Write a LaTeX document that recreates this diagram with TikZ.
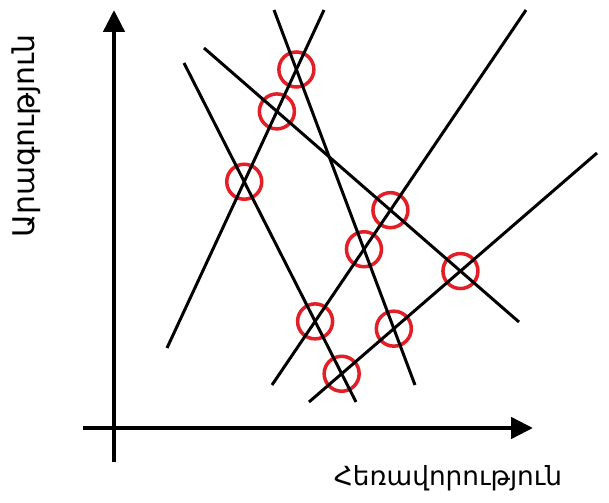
\documentclass[tikz,border=0pt]{standalone}
\usepackage{fontspec}
\newfontfamily\armfont{DejaVu Sans}
\usetikzlibrary{arrows.meta, intersections}
\definecolor{cred}{HTML}{E41E26}
\tikzset{
  every picture/.style={line width=1.5pt},
  axis/.style={-{Triangle[length=4.4mm, width=4.2mm]}, line width=2.6pt},
  ray/.style={draw=black, line width=1.7pt},
  hit/.style={circle, draw=cred, line width=2pt, minimum size=7mm, inner sep=0pt},
  lbl/.style={font=\armfont\fontsize{15}{18}\selectfont},
}

\begin{document}
\begin{tikzpicture}
  \useasboundingbox (0,0) rectangle (12.18,10.04);
  % axes
  \coordinate (ybot) at (2.28,0.80);
  \coordinate (ytop) at (2.28,9.84);
  \coordinate (xleft) at (1.66,1.48);
  \coordinate (xright) at (10.66,1.48);
  \draw[axis] (ybot) -- (ytop);
  \draw[axis] (xleft) -- (xright);
  \node[lbl] (xlab) at (8.96,0.48) {Հեռավորություն};
  \node[lbl, font=\armfont\fontsize{17}{20}\selectfont, rotate=90] (ylab) at (0.52,7.32) {Արագություն};
  % line ends
  \foreach \n/\ax/\ay/\bx/\by in {1/3.34/3.08/6.48/9.84, 2/3.68/8.78/7.12/2.00,
      3/5.48/9.84/8.30/2.34, 4/4.08/9.08/10.38/3.60,
      5/5.44/2.34/10.52/9.84, 6/6.18/2.00/11.94/6.98} {
    \coordinate (a\n) at (\ax,\ay);
    \coordinate (b\n) at (\bx,\by);
    \path[name path global=r\n] (a\n) -- (b\n);
  }
  % crossings
  \foreach \c/\p/\q in {1/1/3, 2/1/4, 3/1/2, 4/4/5, 5/3/5, 6/4/6, 7/2/5, 8/3/6, 9/2/6}
    \path[name intersections/.expanded={of=r\p\space and r\q, by=x\c}]
      node[hit] (c\c) at (x\c) {};
  \foreach \n in {1,...,6} \draw[ray] (a\n) -- (b\n);
\end{tikzpicture}
\end{document}
